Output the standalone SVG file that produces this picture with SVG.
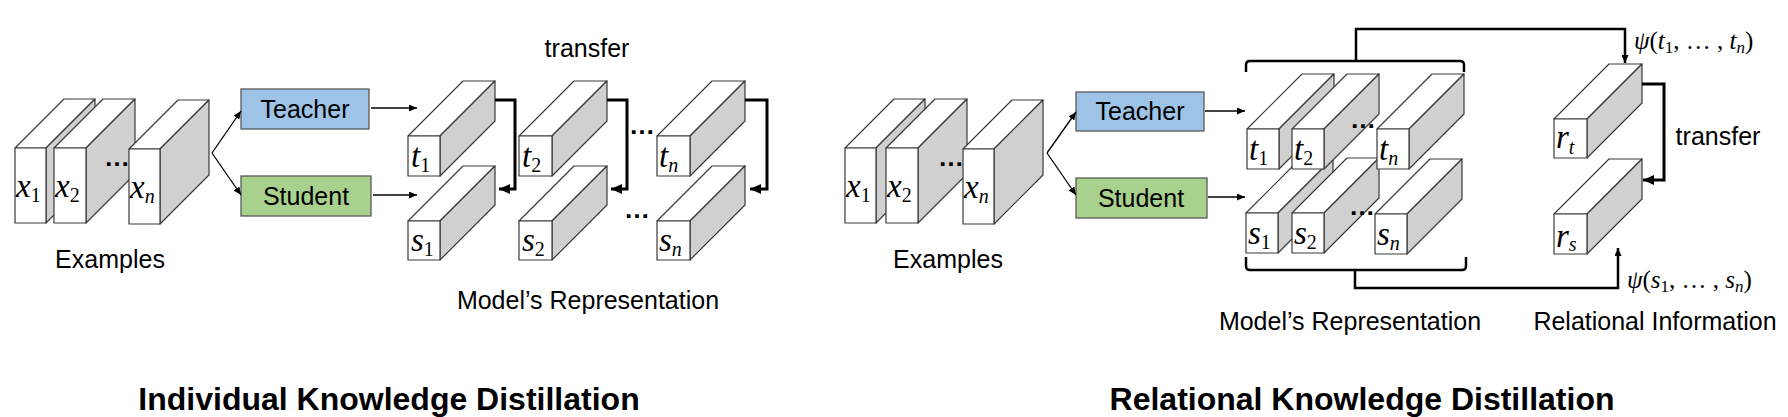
<svg xmlns="http://www.w3.org/2000/svg" width="1788" height="417" viewBox="0 0 1788 417">
<defs>
<style>
.lbl{font-family:"Liberation Sans",Arial,sans-serif;font-size:25px;fill:#000;text-anchor:middle}
.ttl{font-family:"Liberation Sans",Arial,sans-serif;font-size:32px;font-weight:bold;fill:#000;text-anchor:middle}
.mi{font-family:"Liberation Serif","DejaVu Serif",serif;font-style:italic;font-size:33px;fill:#000}
.ps{font-family:"Liberation Serif","DejaVu Serif",serif;font-style:italic;font-size:25px;fill:#000}
.up{font-style:normal}
.sb{font-size:20px}
.sbs{font-size:17px}
.dots{font-family:"Liberation Sans",Arial,sans-serif;font-weight:bold;font-size:26px;text-anchor:middle;fill:#000}
.fc{fill:#fff;stroke:#3a3a3a;stroke-width:1.2;stroke-linejoin:round}
.sd{fill:#d0d0d0;stroke:#3a3a3a;stroke-width:1.2;stroke-linejoin:round}
.tch{fill:#9dc3e6;stroke:#5a5a5a;stroke-width:1.3}
.stu{fill:#a9d18e;stroke:#5a5a5a;stroke-width:1.3}
.thin{fill:none;stroke:#000;stroke-width:1.3}
.thick{fill:none;stroke:#000;stroke-width:3}
.brk{fill:none;stroke:#000;stroke-width:2.5}
</style>
<marker id="ah" markerUnits="userSpaceOnUse" markerWidth="8" markerHeight="7" refX="8" refY="3.5" orient="auto"><path d="M0,0 L8,3.5 L0,7 z" fill="#000"/></marker>
<marker id="ahb" markerUnits="userSpaceOnUse" markerWidth="11" markerHeight="10" refX="11" refY="5" orient="auto"><path d="M0,0 L11,5 L0,10 z" fill="#000"/></marker>
</defs>

<!-- ===== Left panel: Individual KD ===== -->
<g id="L-x1"><polygon class="fc" points="15,148 64,99 95,99 46,148"/><polygon class="sd" points="46,148 95,99 95,174 46,223"/><rect class="fc" x="15" y="148" width="31" height="75"/><text class="mi" x="16" y="197">x<tspan class="sb up" dy="5">1</tspan></text></g>
<g id="L-x2"><polygon class="fc" points="54,148 103,99 135,99 86,148"/><polygon class="sd" points="86,148 135,99 135,174 86,223"/><rect class="fc" x="54" y="148" width="32" height="75"/><text class="mi" x="55" y="197">x<tspan class="sb up" dy="5">2</tspan></text></g>
<g id="L-xn"><polygon class="fc" points="129,149 178,100 209,100 160,149"/><polygon class="sd" points="160,149 209,100 209,175 160,224"/><rect class="fc" x="129" y="149" width="31" height="75"/><text class="mi" x="130" y="198">x<tspan class="sb" dy="5">n</tspan></text></g>
<text class="dots" x="117" y="166">…</text>
<text class="lbl" x="110" y="268">Examples</text>

<g id="L-teacher"><rect class="tch" x="241" y="89" width="128" height="40"/><text class="lbl" x="305" y="118">Teacher</text></g>
<g id="L-student"><rect class="stu" x="241" y="176" width="130" height="40"/><text class="lbl" x="306" y="205">Student</text></g>

<g id="L-t1"><polygon class="fc" points="408,136 463,81 495,81 440,136"/><polygon class="sd" points="440,136 495,81 495,121 440,176"/><rect class="fc" x="408" y="136" width="32" height="40"/><text class="mi" x="411" y="167">t<tspan class="sb up" dy="5">1</tspan></text></g>
<g id="L-s1"><polygon class="fc" points="408,221 463,166 495,166 440,221"/><polygon class="sd" points="440,221 495,166 495,205 440,260"/><rect class="fc" x="408" y="221" width="32" height="39"/><text class="mi" x="411" y="251">s<tspan class="sb up" dy="5">1</tspan></text></g>
<g id="L-t2"><polygon class="fc" points="519,136 574,81 607,81 552,136"/><polygon class="sd" points="552,136 607,81 607,121 552,176"/><rect class="fc" x="519" y="136" width="33" height="40"/><text class="mi" x="522" y="167">t<tspan class="sb up" dy="5">2</tspan></text></g>
<g id="L-s2"><polygon class="fc" points="519,221 574,166 607,166 552,221"/><polygon class="sd" points="552,221 607,166 607,205 552,260"/><rect class="fc" x="519" y="221" width="33" height="39"/><text class="mi" x="522" y="251">s<tspan class="sb up" dy="5">2</tspan></text></g>
<g id="L-tn"><polygon class="fc" points="657,136 712,81 745,81 690,136"/><polygon class="sd" points="690,136 745,81 745,121 690,176"/><rect class="fc" x="657" y="136" width="33" height="40"/><text class="mi" x="659" y="167">t<tspan class="sb" dy="5">n</tspan></text></g>
<g id="L-sn"><polygon class="fc" points="657,221 712,166 745,166 690,221"/><polygon class="sd" points="690,221 745,166 745,205 690,260"/><rect class="fc" x="657" y="221" width="33" height="39"/><text class="mi" x="659" y="251">s<tspan class="sb" dy="5">n</tspan></text></g>
<text class="dots" x="642" y="134">…</text>
<text class="dots" x="637" y="218">…</text>
<text class="lbl" x="587" y="57">transfer</text>
<text class="lbl" x="588" y="309">Model’s Representation</text>
<text class="ttl" x="389" y="410">Individual Knowledge Distillation</text>

<!-- ===== Right panel: Relational KD ===== -->
<g id="R-x1"><polygon class="fc" points="845,148 894,99 925,99 876,148"/><polygon class="sd" points="876,148 925,99 925,174 876,223"/><rect class="fc" x="845" y="148" width="31" height="75"/><text class="mi" x="846" y="197">x<tspan class="sb up" dy="5">1</tspan></text></g>
<g id="R-x2"><polygon class="fc" points="886,148 935,99 967,99 918,148"/><polygon class="sd" points="918,148 967,99 967,174 918,223"/><rect class="fc" x="886" y="148" width="32" height="75"/><text class="mi" x="887" y="197">x<tspan class="sb up" dy="5">2</tspan></text></g>
<g id="R-xn"><polygon class="fc" points="963,149 1012,100 1043,100 994,149"/><polygon class="sd" points="994,149 1043,100 1043,175 994,224"/><rect class="fc" x="963" y="149" width="31" height="75"/><text class="mi" x="964" y="198">x<tspan class="sb" dy="5">n</tspan></text></g>
<text class="dots" x="951" y="166">…</text>
<text class="lbl" x="948" y="268">Examples</text>

<g id="R-teacher"><rect class="tch" x="1076" y="92" width="128" height="39"/><text class="lbl" x="1140" y="120">Teacher</text></g>
<g id="R-student"><rect class="stu" x="1076" y="178" width="131" height="40"/><text class="lbl" x="1141" y="207">Student</text></g>

<g id="R-s1"><polygon class="fc" points="1246,213 1301,158 1333,158 1278,213"/><polygon class="sd" points="1278,213 1333,158 1333,198 1278,253"/><rect class="fc" x="1246" y="213" width="32" height="40"/><text class="mi" x="1248" y="244">s<tspan class="sb up" dy="5">1</tspan></text></g>
<g id="R-s2"><polygon class="fc" points="1292,213 1347,158 1379,158 1324,213"/><polygon class="sd" points="1324,213 1379,158 1379,198 1324,253"/><rect class="fc" x="1292" y="213" width="32" height="40"/><text class="mi" x="1294" y="244">s<tspan class="sb up" dy="5">2</tspan></text></g>
<g id="R-sn"><polygon class="fc" points="1375,214 1430,159 1462,159 1407,214"/><polygon class="sd" points="1407,214 1462,159 1462,199 1407,254"/><rect class="fc" x="1375" y="214" width="32" height="40"/><text class="mi" x="1377" y="245">s<tspan class="sb" dy="5">n</tspan></text></g>
<g id="R-t1"><polygon class="fc" points="1247,129 1302,74 1334,74 1279,129"/><polygon class="sd" points="1279,129 1334,74 1334,114 1279,169"/><rect class="fc" x="1247" y="129" width="32" height="40"/><text class="mi" x="1249" y="160">t<tspan class="sb up" dy="5">1</tspan></text></g>
<g id="R-t2"><polygon class="fc" points="1292,129 1347,74 1379,74 1324,129"/><polygon class="sd" points="1324,129 1379,74 1379,114 1324,169"/><rect class="fc" x="1292" y="129" width="32" height="40"/><text class="mi" x="1294" y="160">t<tspan class="sb up" dy="5">2</tspan></text></g>
<g id="R-tn"><polygon class="fc" points="1377,129 1432,74 1464,74 1409,129"/><polygon class="sd" points="1409,129 1464,74 1464,114 1409,169"/><rect class="fc" x="1377" y="129" width="32" height="40"/><text class="mi" x="1379" y="160">t<tspan class="sb" dy="5">n</tspan></text></g>
<text class="dots" x="1363" y="128">…</text>
<text class="dots" x="1362" y="215">…</text>

<g id="R-rt"><polygon class="fc" points="1554,119 1609,64 1642,64 1587,119"/><polygon class="sd" points="1587,119 1642,64 1642,103 1587,158"/><rect class="fc" x="1554" y="119" width="33" height="39"/><text class="mi" x="1556" y="148" font-size="30">r<tspan class="sb" dy="6">t</tspan></text></g>
<g id="R-rs"><polygon class="fc" points="1554,214 1609,159 1642,159 1587,214"/><polygon class="sd" points="1587,214 1642,159 1642,199 1587,254"/><rect class="fc" x="1554" y="214" width="33" height="40"/><text class="mi" x="1556" y="247" font-size="30">r<tspan class="sb" dy="4">s</tspan></text></g>

<text class="ps" x="1634" y="49">ψ<tspan class="up">(</tspan>t<tspan class="sbs up" dy="4">1</tspan><tspan class="up" dy="-4">, … , </tspan>t<tspan class="sbs" dy="4">n</tspan><tspan class="up" dy="-4">)</tspan></text>
<text class="ps" x="1627" y="288">ψ<tspan class="up">(</tspan>s<tspan class="sbs up" dy="4">1</tspan><tspan class="up" dy="-4">, … , </tspan>s<tspan class="sbs" dy="4">n</tspan><tspan class="up" dy="-4">)</tspan></text>
<text class="lbl" x="1718" y="145">transfer</text>
<text class="lbl" x="1350" y="330">Model’s Representation</text>
<text class="lbl" x="1655" y="330">Relational Information</text>
<text class="ttl" x="1362" y="410">Relational Knowledge Distillation</text>

<!-- ===== Connectors ===== -->
<g id="connectors">
<path class="thin" d="M212,153 L241,111" marker-end="url(#ah)"/>
<path class="thin" d="M212,153 L241,195" marker-end="url(#ah)"/>
<path class="thin" d="M371,108 H417" marker-end="url(#ah)"/>
<path class="thin" d="M373,195 H417" marker-end="url(#ah)"/>
<path class="thick" d="M495,100 H515 V189 H499" marker-end="url(#ahb)"/>
<path class="thick" d="M607,100 H627 V189 H611" marker-end="url(#ahb)"/>
<path class="thick" d="M745,100 H767 V189 H750" marker-end="url(#ahb)"/>

<path class="thin" d="M1047,153 L1076,112" marker-end="url(#ah)"/>
<path class="thin" d="M1047,153 L1076,195" marker-end="url(#ah)"/>
<path class="thin" d="M1205,111 H1245" marker-end="url(#ah)"/>
<path class="thin" d="M1208,197 H1245" marker-end="url(#ah)"/>
<path class="brk" d="M1246,72 V65 Q1246,61 1250,61 H1460 Q1464,61 1464,65 V72"/>
<path class="brk" d="M1356,61 V29 H1625 V63" marker-end="url(#ah)"/>
<path class="brk" d="M1246,257 V266 Q1246,270 1250,270 H1462 Q1466,270 1466,266 V257"/>
<path class="brk" d="M1355,270 V288 H1618 V248" marker-end="url(#ah)"/>
<path class="thick" d="M1642,84 H1664 V180 H1643" marker-end="url(#ahb)"/>
</g>
</svg>
